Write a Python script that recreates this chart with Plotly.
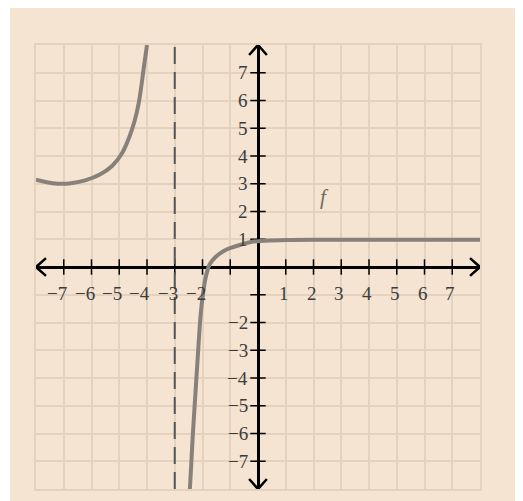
import plotly.graph_objects as go

# curve: left branch and right branch of f
left_x = [-8, -7.4, -6.8, -6.2, -5.7, -5.25, -4.9, -4.65, -4.45, -4.3, -4.2, -4.1, -4.0]
left_y = [3.15, 3.02, 3.01, 3.13, 3.33, 3.65, 4.1, 4.65, 5.25, 5.9, 6.55, 7.3, 8.0]
right_x = [-2.46, -2.4, -2.34, -2.27, -2.2, -2.13, -2.06, -1.98, -1.88, -1.74,
           -1.52, -1.25, -0.95, -0.6, -0.25, 0.2, 1, 2, 4, 6, 8]
right_y = [-8.1, -7.0, -5.9, -4.8, -3.7, -2.6, -1.65, -0.95, -0.35, 0.1,
           0.37, 0.57, 0.7, 0.81, 0.9, 0.95, 0.97, 0.98, 0.98, 0.98, 0.98]
asymptote_x = -3

x_ticks = [-7, -6, -5, -4, -3, -2, -1, 1, 2, 3, 4, 5, 6, 7]
y_ticks = [-7, -6, -5, -4, -3, -2, -1, 1, 2, 3, 4, 5, 6, 7]
x_labels = {-7: "−7", -6: "−6", -5: "−5", -4: "−4", -3: "−3", -2: "−2",
            1: "1", 2: "2", 3: "3", 4: "4", 5: "5", 6: "6", 7: "7"}
y_labels = {7: "7", 6: "6", 5: "5", 4: "4", 3: "3", 2: "2", 1: "1",
            -2: "−2", -3: "−3", -4: "−4", -5: "−5", -6: "−6", -7: "−7"}

BG = "#f4e4d1"
GRID = "#e3d2bd"
CURVE = "#87817a"
LABEL = "#3c3c3c"
SERIF = "Liberation Serif, DejaVu Serif, serif"

fig = go.Figure()

# tick marks on the axes
fig.add_trace(go.Scatter(x=x_ticks, y=[0] * len(x_ticks), mode="markers",
                         marker=dict(symbol="line-ns", size=11,
                                     line=dict(color="black", width=1.5)),
                         hoverinfo="skip", cliponaxis=False))
fig.add_trace(go.Scatter(x=[0] * len(y_ticks), y=y_ticks, mode="markers",
                         marker=dict(symbol="line-ew", size=11,
                                     line=dict(color="black", width=1.5)),
                         hoverinfo="skip", cliponaxis=False))

# the function
for xs, ys in [(left_x, left_y), (right_x, right_y)]:
    fig.add_trace(go.Scatter(x=xs, y=ys, mode="lines",
                             line=dict(color=CURVE, width=4, shape="spline", smoothing=1.0),
                             hoverinfo="skip"))

# dashed asymptote
fig.add_shape(type="line", x0=asymptote_x, x1=asymptote_x, y0=-8, y1=8,
              line=dict(color="#555555", width=2, dash="17px,8px"))

# arrow heads on the axes
ah, aw = 0.36, 0.32
arrows = [
    f"M {-8 + ah} {aw} L -8 0 L {-8 + ah} {-aw}",
    f"M {8 - ah} {aw} L 8 0 L {8 - ah} {-aw}",
    f"M {aw} {8 - ah} L 0 8 L {-aw} {8 - ah}",
    f"M {aw} {-8 + ah} L 0 -8 L {-aw} {-8 + ah}",
]
for p in arrows:
    fig.add_shape(type="path", path=p, line=dict(color="black", width=2.5))

# thin white strip at the left like the page around the card
fig.add_shape(type="rect", xref="paper", yref="paper", x0=-0.2, x1=-26 / 444,
              y0=-0.2, y1=1.3, fillcolor="white", line_width=0, layer="below")

for v, t in x_labels.items():
    fig.add_annotation(x=v, y=-1, text=t, showarrow=False, xanchor="right",
                       xshift=5, yshift=1, font=dict(family=SERIF, size=19, color=LABEL))
for v, t in y_labels.items():
    fig.add_annotation(x=0, y=v, text=t, showarrow=False, xanchor="right",
                       xshift=-8, font=dict(family=SERIF, size=19, color=LABEL))

fig.add_annotation(x=0, y=8.97, text="<i>y</i>", showarrow=False,
                   font=dict(family=SERIF, size=21, color=LABEL))
fig.add_annotation(x=8.61, y=-0.1, text="<i>x</i>", showarrow=False,
                   font=dict(family=SERIF, size=21, color=LABEL))
fig.add_annotation(x=2.41, y=2.52, text="<i>f</i>", showarrow=False,
                   font=dict(family=SERIF, size=21, color="#6f6a64"))

axis = dict(range=[-8, 8], dtick=1, showgrid=True, gridcolor=GRID, gridwidth=2,
            zeroline=True, zerolinecolor="black", zerolinewidth=2.5,
            showticklabels=False, ticks="", showline=True, linecolor=GRID,
            linewidth=2, mirror=True, fixedrange=True)

fig.update_layout(width=515, height=493, showlegend=False,
                  paper_bgcolor=BG, plot_bgcolor=BG,
                  margin=dict(l=28, r=43, t=37, b=12),
                  xaxis=axis, yaxis=axis)

fig.write_html("out.html")
